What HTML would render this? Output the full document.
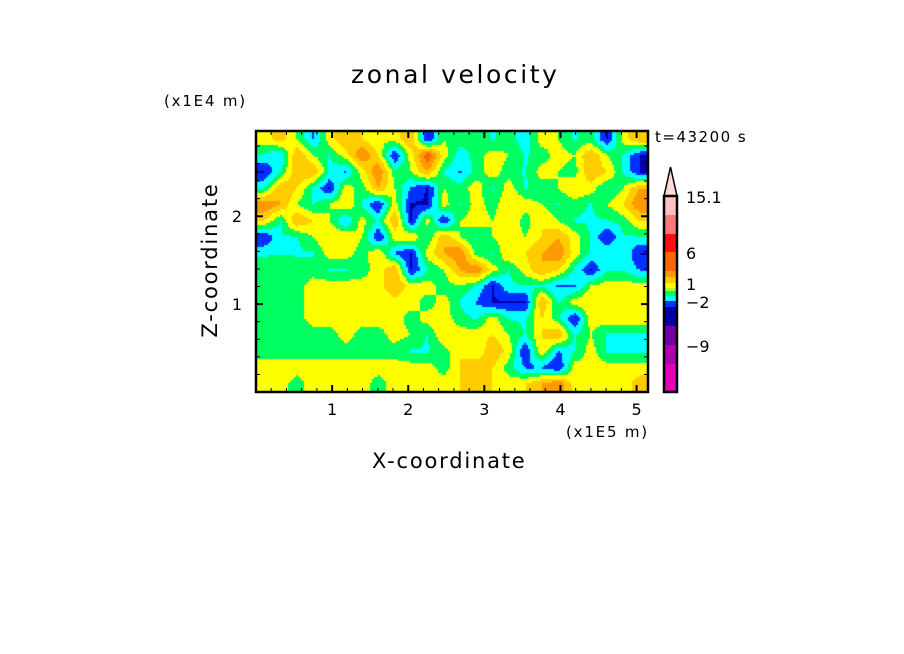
<!DOCTYPE html>
<html><head><meta charset="utf-8">
<style>
body{margin:0;background:#fff;width:904px;height:654px;overflow:hidden;font-family:"DejaVu Sans","Liberation Sans",sans-serif;}
.t{position:absolute;color:#000;white-space:nowrap;}
</style></head>
<body>
<div style="position:relative;width:904px;height:654px;">
<div class="t" style="left:351px;top:60px;font-size:25px;letter-spacing:2.6px;">zonal velocity</div>
<div class="t" style="left:164px;top:92px;font-size:15px;letter-spacing:1.8px;">(x1E4 m)</div>
<div class="t" style="left:655px;top:128px;font-size:15px;letter-spacing:1.5px;">t=43200 s</div>
<div class="t" style="left:566px;top:423px;font-size:15px;letter-spacing:1.8px;">(x1E5 m)</div>
<div class="t" style="left:372px;top:449px;font-size:21px;letter-spacing:1.8px;">X-coordinate</div>
<div class="t" style="left:210px;top:260px;font-size:21px;letter-spacing:1.8px;transform:translate(-50%,-50%) rotate(-90deg);">Z-coordinate</div>
<canvas id="field" width="392" height="261" style="position:absolute;left:256px;top:131px;"></canvas>
<svg id="ax" width="904" height="654" style="position:absolute;left:0;top:0;"></svg>
</div>
<script>
const xTicks=[1,2,3,4,5];
const yTicks=[1,2];
const fieldLevels=[-2.9,-1.9,-0.9,0,1,2,3,6];
const fieldColors=["#0000a8","#0030ff","#00ffff","#00ff60","#ffff00","#ffcc00","#ff9900","#ff6600","#ff1010"];
const cbColors=["#ffc0c0","#ff7878","#ff1010","#ff6600","#ff9900","#ffcc00","#ffff00","#aaff30","#00ff60","#00ffff","#0030ff","#0000a8","#7000a8","#b000b0","#e600b4"];
const cbHeights=[19,19,18,19,6,6,5,3,5,5,6,19,19,19,28];
const cbLabels=["15.1","6","1","\u22122","\u22129"];
const cbLabelSeg=[0,3,6,10,13];
const grid=[
[0.5,1.5,0,-2,0.5,2,1,0,0.5,2,-3,0,-0.5,-0.5,-1,-0.5,-1.5,0.5,0,-1,-0.5,-3,0.5,2],
[-1,-2,2,0,-1,0.5,3,1,-3,0.5,4,0.5,-1.5,-0.5,0.5,0,-1,-0.5,0.5,0,2,0,-1,-3],
[-3,-1,2,2,-1,-2,0.5,3,-0.5,0,2,-1,-2,-0.5,0.5,-0.5,-1,0.5,0,-0.5,2,1,-1,-3],
[-1,2,1,-1,-3,0.5,-0.5,2,0,-2,-3,0,-0.5,0.5,-1,0.5,-1,-0.5,0,1,0.5,-1,0,2],
[3,2,0,-1,0,1,-1,-3,0.5,-3,-3,0.5,-1,0.5,-0.5,1,0.5,0,-1,-0.5,-1,0,1,3],
[1,-1,2,1,0,-2,0.5,-1,2,-3,0.5,-3,0,0.5,0,1,-0.5,1,0,-1,-1,-1,-0.5,1],
[-3,-1,-1,0,1,1,0,-3,0.5,1,-1,2,0,-1,0,0.5,0,1,2,0.5,-1,-3,-1,-1],
[-1,-1,-1,-1,0.5,0.5,-0.5,1,-2,-3,0.5,2,3,-0.5,-1,1,1,2,3,0.5,-1,-1,-1,-3],
[-0.5,0,-0.5,-0.5,-1,-1,-0.5,0.5,2,-3,-1,0,2,3,0.5,-1,0.5,2,1,-1,-3,-1,-1,-2],
[-0.5,-0.5,-0.5,0.5,0.5,0.5,0.5,0.5,2,0.5,0.5,-0.5,0,-1,-3,-1,-1,-1,-2,-2,0,0.5,0.5,0.5],
[-0.5,-0.5,-0.5,0.5,0.5,0.5,0.5,0.5,0.5,0.5,-0.5,0.5,-1,-2,-3,-3,-3,2,-1,0.5,1,0.5,0.5,0.5],
[-0.5,-0.5,-0.5,0.5,0.5,0.5,0.5,0.5,0.5,-0.5,0.5,0.5,-0.5,-1,0.5,-1,-1,1,-0.5,-3,0.5,0.5,0.5,0.5],
[-0.5,-0.5,-0.5,-0.5,-0.5,0.5,-0.5,-0.5,0.5,0,-1,1,0.5,0.5,1,0,-1,1,2,-1,0,-1,-1,-1],
[-0.5,-0.5,-0.5,-0.5,-0.5,-0.5,-0.5,-0.5,-0.5,-1,-1,-0.5,1,0,2,0.5,-3,1,-2,-1,0.5,-1,-1,-1],
[0.5,0.5,0.5,0.5,0.5,0.5,0.5,0.5,0.5,0.5,0.5,-0.5,1,2,1,-0.5,-2,-2,-3,0.5,0.5,0.5,0.5,0.5],
[1,0.5,-0.5,0.5,0.5,0.5,0.5,-0.5,0.5,0.5,0.5,0.5,1,2,1,0.5,1,2,3,0.5,0.5,0.5,0.5,1.5]
];
const X0=256,X1=648,Y0=392,Y1=131,XMAX=5.15,YMAX=2.97;
const sx=v=>X0+(X1-X0)*v/XMAX;
const sy=v=>Y0-(Y0-Y1)*v/YMAX;
function colorOf(v){let i=0;while(i<fieldLevels.length&&v>=fieldLevels[i])i++;return fieldColors[i];}
const cv=document.getElementById('field'),ctx=cv.getContext('2d');
const R=grid.length,C=grid[0].length,W=cv.width,H=cv.height,cell=2;
for(let py=0;py<H;py+=cell){for(let px=0;px<W;px+=cell){
 const gx=Math.min(C-1.0001,Math.max(0,(px+1)/W*C-0.5)),gy=Math.min(R-1.0001,Math.max(0,(py+1)/H*R-0.5));
 const i=Math.floor(gx),j=Math.floor(gy),fx=gx-i,fy=gy-j;
 const v=grid[j][i]*(1-fx)*(1-fy)+grid[j][i+1]*fx*(1-fy)+grid[j+1][i]*(1-fx)*fy+grid[j+1][i+1]*fx*fy;
 ctx.fillStyle=colorOf(v);ctx.fillRect(px,py,cell,cell);}}
const svg=document.getElementById('ax');const NS='http://www.w3.org/2000/svg';
function mk(t,a){const e=document.createElementNS(NS,t);for(const k in a)e.setAttribute(k,a[k]);svg.appendChild(e);return e;}
let e=mk('rect',{x:X0,y:Y1,width:X1-X0,height:Y0-Y1,fill:'none',stroke:'#000','stroke-width':2.5});


for(let k=1;k*0.2<XMAX;k++){const v=k*0.2,major=k%5===0,L=major?7:4;
 mk('line',{x1:sx(v),x2:sx(v),y1:Y0,y2:Y0-L,stroke:'#000','stroke-width':major?2:1});
 mk('line',{x1:sx(v),x2:sx(v),y1:Y1,y2:Y1+L,stroke:'#000','stroke-width':major?2:1});}
for(let k=1;k*0.2<YMAX;k++){const v=k*0.2,major=k%5===0,L=major?7:4;
 mk('line',{x1:X0,x2:X0+L,y1:sy(v),y2:sy(v),stroke:'#000','stroke-width':major?2:1});
 mk('line',{x1:X1,x2:X1-L,y1:sy(v),y2:sy(v),stroke:'#000','stroke-width':major?2:1});}
xTicks.forEach(v=>{const t=mk('text',{x:sx(v),y:Y0+23,'font-size':16,'text-anchor':'middle','font-family':'DejaVu Sans, Liberation Sans, sans-serif'});t.textContent=v;

});
yTicks.forEach(v=>{const t=mk('text',{x:X0-14,y:sy(v)+6,'font-size':16,'text-anchor':'end','font-family':'DejaVu Sans, Liberation Sans, sans-serif'});t.textContent=v;

});
const CX=664,CW=13,CBTOP=196;
let yc=CBTOP;const segTop=[];
cbColors.forEach((c,i)=>{segTop.push(yc);
 const r=mk('rect',{x:CX,y:yc,width:CW,height:cbHeights[i],fill:c});
 
 
 yc+=cbHeights[i];});
const tri=mk('polygon',{points:`${CX},${CBTOP} ${CX+CW},${CBTOP} ${CX+CW/2},167`,fill:'#ffd8d8',stroke:'#000','stroke-width':1.5});


mk('rect',{x:CX,y:CBTOP,width:CW,height:yc-CBTOP,fill:'none',stroke:'#000','stroke-width':2.5});
cbLabels.forEach((s,i)=>{const yy=segTop[cbLabelSeg[i]]+1;
 const t=mk('text',{x:CX+22,y:yy+6,'font-size':16,'font-family':'DejaVu Sans, Liberation Sans, sans-serif'});t.textContent=s;
 
 });
</script>
</body></html>
